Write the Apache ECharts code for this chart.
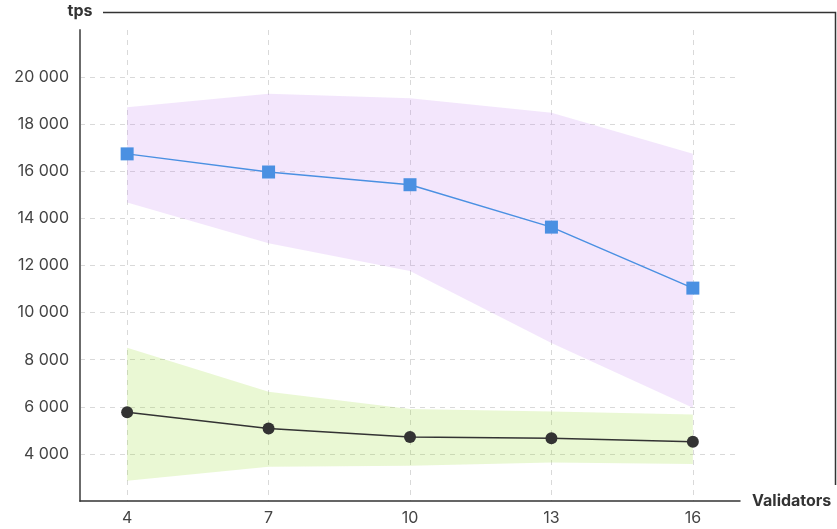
<!DOCTYPE html>
<html>
<head>
<meta charset="utf-8">
<script src="https://cdn.jsdelivr.net/npm/echarts@6/dist/echarts.min.js"></script>
<style>
  html, body { margin: 0; padding: 0; background: #fff; }
  #chart { width: 837px; height: 529px; }
</style>
</head>
<body>
<div id="chart"></div>
<script>
// Validator counts on the x axis
const validators = [4, 7, 10, 13, 16];

// Throughput (tps), setup A: mean with min/max band
const tpsA = [16740, 15970, 15430, 13630, 11040];
const tpsAHigh = [18720, 19290, 19100, 18490, 16740];
const tpsALow = [14680, 12950, 11770, 8710, 5960];

// Throughput (tps), setup B: mean with min/max band
const tpsB = [5770, 5080, 4720, 4660, 4520];
const tpsBHigh = [8510, 6640, 5910, 5800, 5670];
const tpsBLow = [2860, 3450, 3500, 3630, 3570];

// Y axis tick values
const yTicks = [4000, 6000, 8000, 10000, 12000, 14000, 16000, 18000, 20000];

const FONT = 'Inter';
const pairs = (ys) => validators.map((x, i) => [x, ys[i]]);
const fmt = (v) => String(v).replace(/\B(?=(\d{3})+(?!\d))/g, ' ');

// Min/max envelope drawn as one polygon through the axis scales
function band(lo, hi, color) {
  return {
    type: 'custom',
    data: validators.map((x, i) => [x, lo[i], hi[i]]),
    silent: true,
    z: 1,
    renderItem: (params, api) => {
      if (params.dataIndex !== 0) return null;
      const upper = validators.map((x, i) => api.coord([x, hi[i]]));
      const lower = validators.map((x, i) => api.coord([x, lo[i]])).reverse();
      return {
        type: 'polygon',
        shape: { points: upper.concat(lower) },
        style: { fill: color, stroke: null }
      };
    },
    encode: { x: 0, y: [1, 2] }
  };
}

const chart = echarts.init(document.getElementById('chart'), null, { renderer: 'canvas' });
chart.setOption({
  animation: false,
  backgroundColor: '#fff',
  textStyle: { fontFamily: FONT },
  grid: { left: 80, right: 97, top: 30, bottom: 28, containLabel: false },
  xAxis: {
    type: 'value',
    min: 3, max: 17,
    name: 'Validators',
    nameLocation: 'end',
    nameGap: 12,
    nameTextStyle: { fontFamily: FONT, fontWeight: 'bold', fontSize: 16, color: '#333', verticalAlign: 'middle' },
    axisLine: { show: true, lineStyle: { color: '#333', width: 1.5 } },
    axisTick: { show: false, customValues: validators },
    axisLabel: { customValues: validators, color: '#444', fontSize: 16, margin: 9, fontFamily: FONT },
    splitLine: { show: true, lineStyle: { color: '#d9d9d9', type: [5, 5], width: 1 } }
  },
  yAxis: {
    type: 'value',
    min: 2000, max: 22000, interval: 2000,
    name: 'tps',
    nameLocation: 'end',
    nameGap: 11,
    nameTextStyle: { fontFamily: FONT, fontWeight: 'bold', fontSize: 16, color: '#333', align: 'center' },
    axisLine: { show: true, lineStyle: { color: '#6b6b6b', width: 2 } },
    axisTick: { show: false },
    axisLabel: {
      color: '#444', fontSize: 16, margin: 11, fontFamily: FONT,
      showMinLabel: false, showMaxLabel: false,
      formatter: (v) => (yTicks.indexOf(v) >= 0 ? fmt(v) : '')
    },
    splitLine: { show: true, showMinLine: false, showMaxLine: false, lineStyle: { color: '#d9d9d9', type: [5, 5], width: 1 } }
  },
  graphic: [{
    type: 'polyline',
    shape: { points: [[103, 12.5], [835.5, 12.5], [835.5, 485]] },
    style: { stroke: '#333', lineWidth: 1.5, fill: null },
    silent: true
  }],
  series: [
    band(tpsALow, tpsAHigh, 'rgba(196,128,240,0.2)'),
    band(tpsBLow, tpsBHigh, 'rgba(150,220,40,0.2)'),
    {
      type: 'line', data: pairs(tpsA),
      symbol: 'rect', symbolSize: 13,
      itemStyle: { color: '#4a90e2' },
      lineStyle: { color: '#4a90e2', width: 1.5 },
      z: 3
    },
    {
      type: 'line', data: pairs(tpsB),
      symbol: 'circle', symbolSize: 12,
      itemStyle: { color: '#333' },
      lineStyle: { color: '#333', width: 1.5 },
      z: 3
    }
  ]
});
</script>
</body>
</html>
